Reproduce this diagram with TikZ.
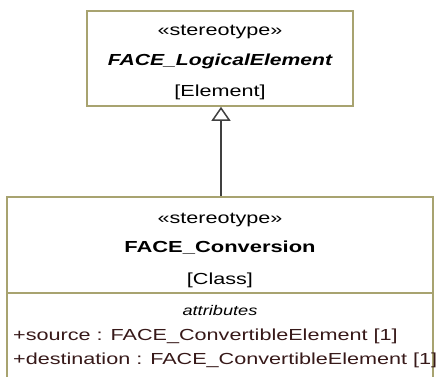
\documentclass[tikz,border=0pt]{standalone}
\usepackage{fontspec}
\setmainfont{Liberation Sans}
\newfontfamily\regf[FakeStretch=1.35]{Liberation Sans}
\newfontfamily\boldf[FakeStretch=1.37]{Liberation Sans}
\newfontfamily\bif[FakeStretch=1.32]{Liberation Sans}
\newfontfamily\itf[FakeStretch=1.3]{Liberation Sans}
\usetikzlibrary{arrows.meta}
\definecolor{boxline}{RGB}{168,163,112}
\definecolor{attrtext}{RGB}{55,25,25}
\definecolor{arrowgray}{RGB}{64,64,64}
\tikzset{
  classbox/.style={draw=boxline, line width=1.6pt, fill=white, rectangle, inner sep=0pt},
  txt/.style={inner sep=0pt, anchor=base, font=\regf\fontsize{16}{18}\selectfont},
  boldtxt/.style={inner sep=0pt, anchor=base, font=\boldf\bfseries\fontsize{16}{18}\selectfont},
  bitxt/.style={inner sep=0pt, anchor=base, font=\bif\bfseries\itshape\fontsize{16}{18}\selectfont},
  ittxt/.style={inner sep=0pt, anchor=base, font=\itf\itshape\fontsize{14}{16}\selectfont},
  attr/.style={inner sep=0pt, anchor=base west, text=attrtext, font=\regf\fontsize{16}{18}\selectfont},
  gen/.style={draw=arrowgray, line width=1.5pt, -{Triangle[open, length=14pt, width=19pt]}}
}
\begin{document}
\begin{tikzpicture}[x=1pt, y=-1pt]
\useasboundingbox (0,0) rectangle (445,377);
\clip (0,0) rectangle (445,377);
% top class
\node[classbox, minimum width=266pt, minimum height=95pt] (top) at (220,58.5) {};
\node[txt] (t1) at (220,36) {«stereotype»};
\node[bitxt] (t2) at (220,66) {FACE\_LogicalElement};
\node[txt] (t3) at (220,97) {[Element]};
% bottom class
\node[classbox, minimum width=426pt, minimum height=210pt] (bot) at (220,302) {};
\draw[draw=boxline, line width=1.6pt] (bot.west |- 0,293) coordinate (dl) -- (bot.east |- 0,293) coordinate (dr);
\node[txt] (b1) at (220,224) {«stereotype»};
\node[boldtxt] (b2) at (220,253) {FACE\_Conversion};
\node[txt] (b3) at (220,284) {[Class]};
\node[ittxt] (b4) at (220,316) {attributes};
\node[attr] (a1) at (13,340) {+source : FACE\_ConvertibleElement [1]};
\node[attr] (a2) at (13,364) {+destination : FACE\_ConvertibleElement [1]};
% generalization
\draw[gen] (bot.north -| 221,0) -- (top.south -| 221,0);
\end{tikzpicture}
\end{document}
